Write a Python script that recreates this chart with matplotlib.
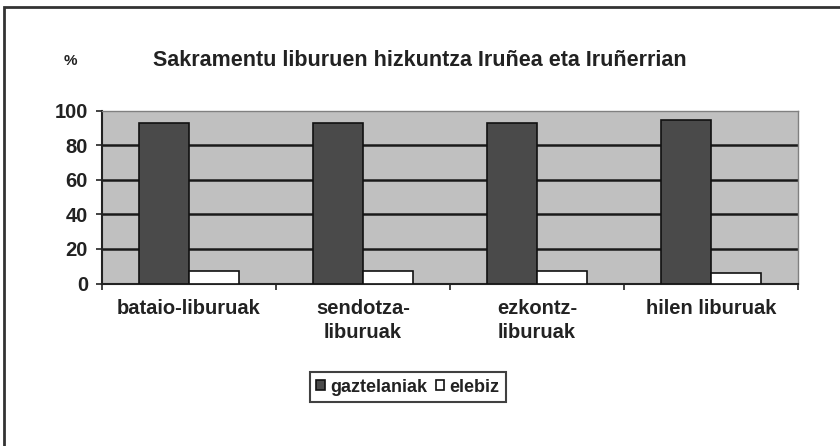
import matplotlib
matplotlib.use("Agg")
import matplotlib.pyplot as plt
from matplotlib.patches import Rectangle
import numpy as np

categories = ["bataio-liburuak", "sendotza-\nliburuak", "ezkontz-\nliburuak", "hilen liburuak"]
gaztelaniak = [93, 93, 93, 94.5]
elebiz = [7, 7, 7, 6]
series_names = ["gaztelaniak", "elebiz"]
yticks = [0, 20, 40, 60, 80, 100]

plt.rcParams['font.family'] = ['Liberation Sans', 'DejaVu Sans']
plt.rcParams['font.weight'] = 'bold'

fig = plt.figure(figsize=(8.4, 4.46), dpi=100)
ax = fig.add_axes([102/840, 1-283.5/446, (798-102)/840, (283.5-110.5)/446])
ax.set_facecolor('#c0c0c0')

x = np.arange(len(categories))
w = 0.285
for y in yticks[1:-1]:
    ax.axhline(y, color='#1a1a1a', lw=1.8, zorder=1)
ax.bar(x - w/2, gaztelaniak, w, color='#4a4a4a', edgecolor='#111111', lw=1.2, zorder=3, label=series_names[0])
ax.bar(x + w/2, elebiz, w, color='white', edgecolor='#111111', lw=1.2, zorder=3, label=series_names[1])

ax.set_xlim(-0.5, 3.5)
ax.set_ylim(0, 100)
ax.set_yticks(yticks)
ax.set_yticklabels([str(v) for v in yticks], fontsize=14.5, fontweight='bold', color='#222222')
ax.set_xticks(np.arange(-0.5, 4, 1.0))
ax.set_xticklabels([])
ax.set_xticks(x, minor=True)
ax.set_xticklabels(categories, minor=True, fontsize=14.5, fontweight='bold', color='#222222', linespacing=1.35)
ax.tick_params(axis='x', which='minor', length=0, pad=11)
ax.tick_params(axis='x', which='major', length=4, width=1.2, color='#222222')
ax.tick_params(axis='y', length=4, width=1.2, color='#222222', pad=6)
for s in ['left', 'bottom']:
    ax.spines[s].set_color('#222222')
    ax.spines[s].set_linewidth(1.5)
for s in ['top', 'right']:
    ax.spines[s].set_color('#808080')
    ax.spines[s].set_linewidth(1.0)

fig.text(70/840, 1-61/446, "%", fontsize=11, fontweight='bold', color='#222222', ha='center', va='center')
fig.text(420/840, 1-61/446, "Sakramentu liburuen hizkuntza Iruñea eta Iruñerrian",
         fontsize=15.5, fontweight='bold', color='#222222', ha='center', va='center')

leg = fig.legend(loc='center', bbox_to_anchor=(408/840, 1-387/446), ncol=2, frameon=True,
                 fontsize=13, handlelength=0.45, handleheight=0.45, handletextpad=0.3,
                 columnspacing=0.5, borderpad=0.35, fancybox=False)
leg.get_frame().set_edgecolor('#111111')
leg.get_frame().set_linewidth(1.5)
for t in leg.get_texts():
    t.set_color('#222222')

# outer frame (top and left visible)
fig.add_artist(Rectangle((4/840, -0.1), 1.2, (1-7/446) + 0.1, transform=fig.transFigure,
                         fill=False, edgecolor='#333333', lw=2))

fig.savefig("out.png", dpi=100, facecolor='white')
